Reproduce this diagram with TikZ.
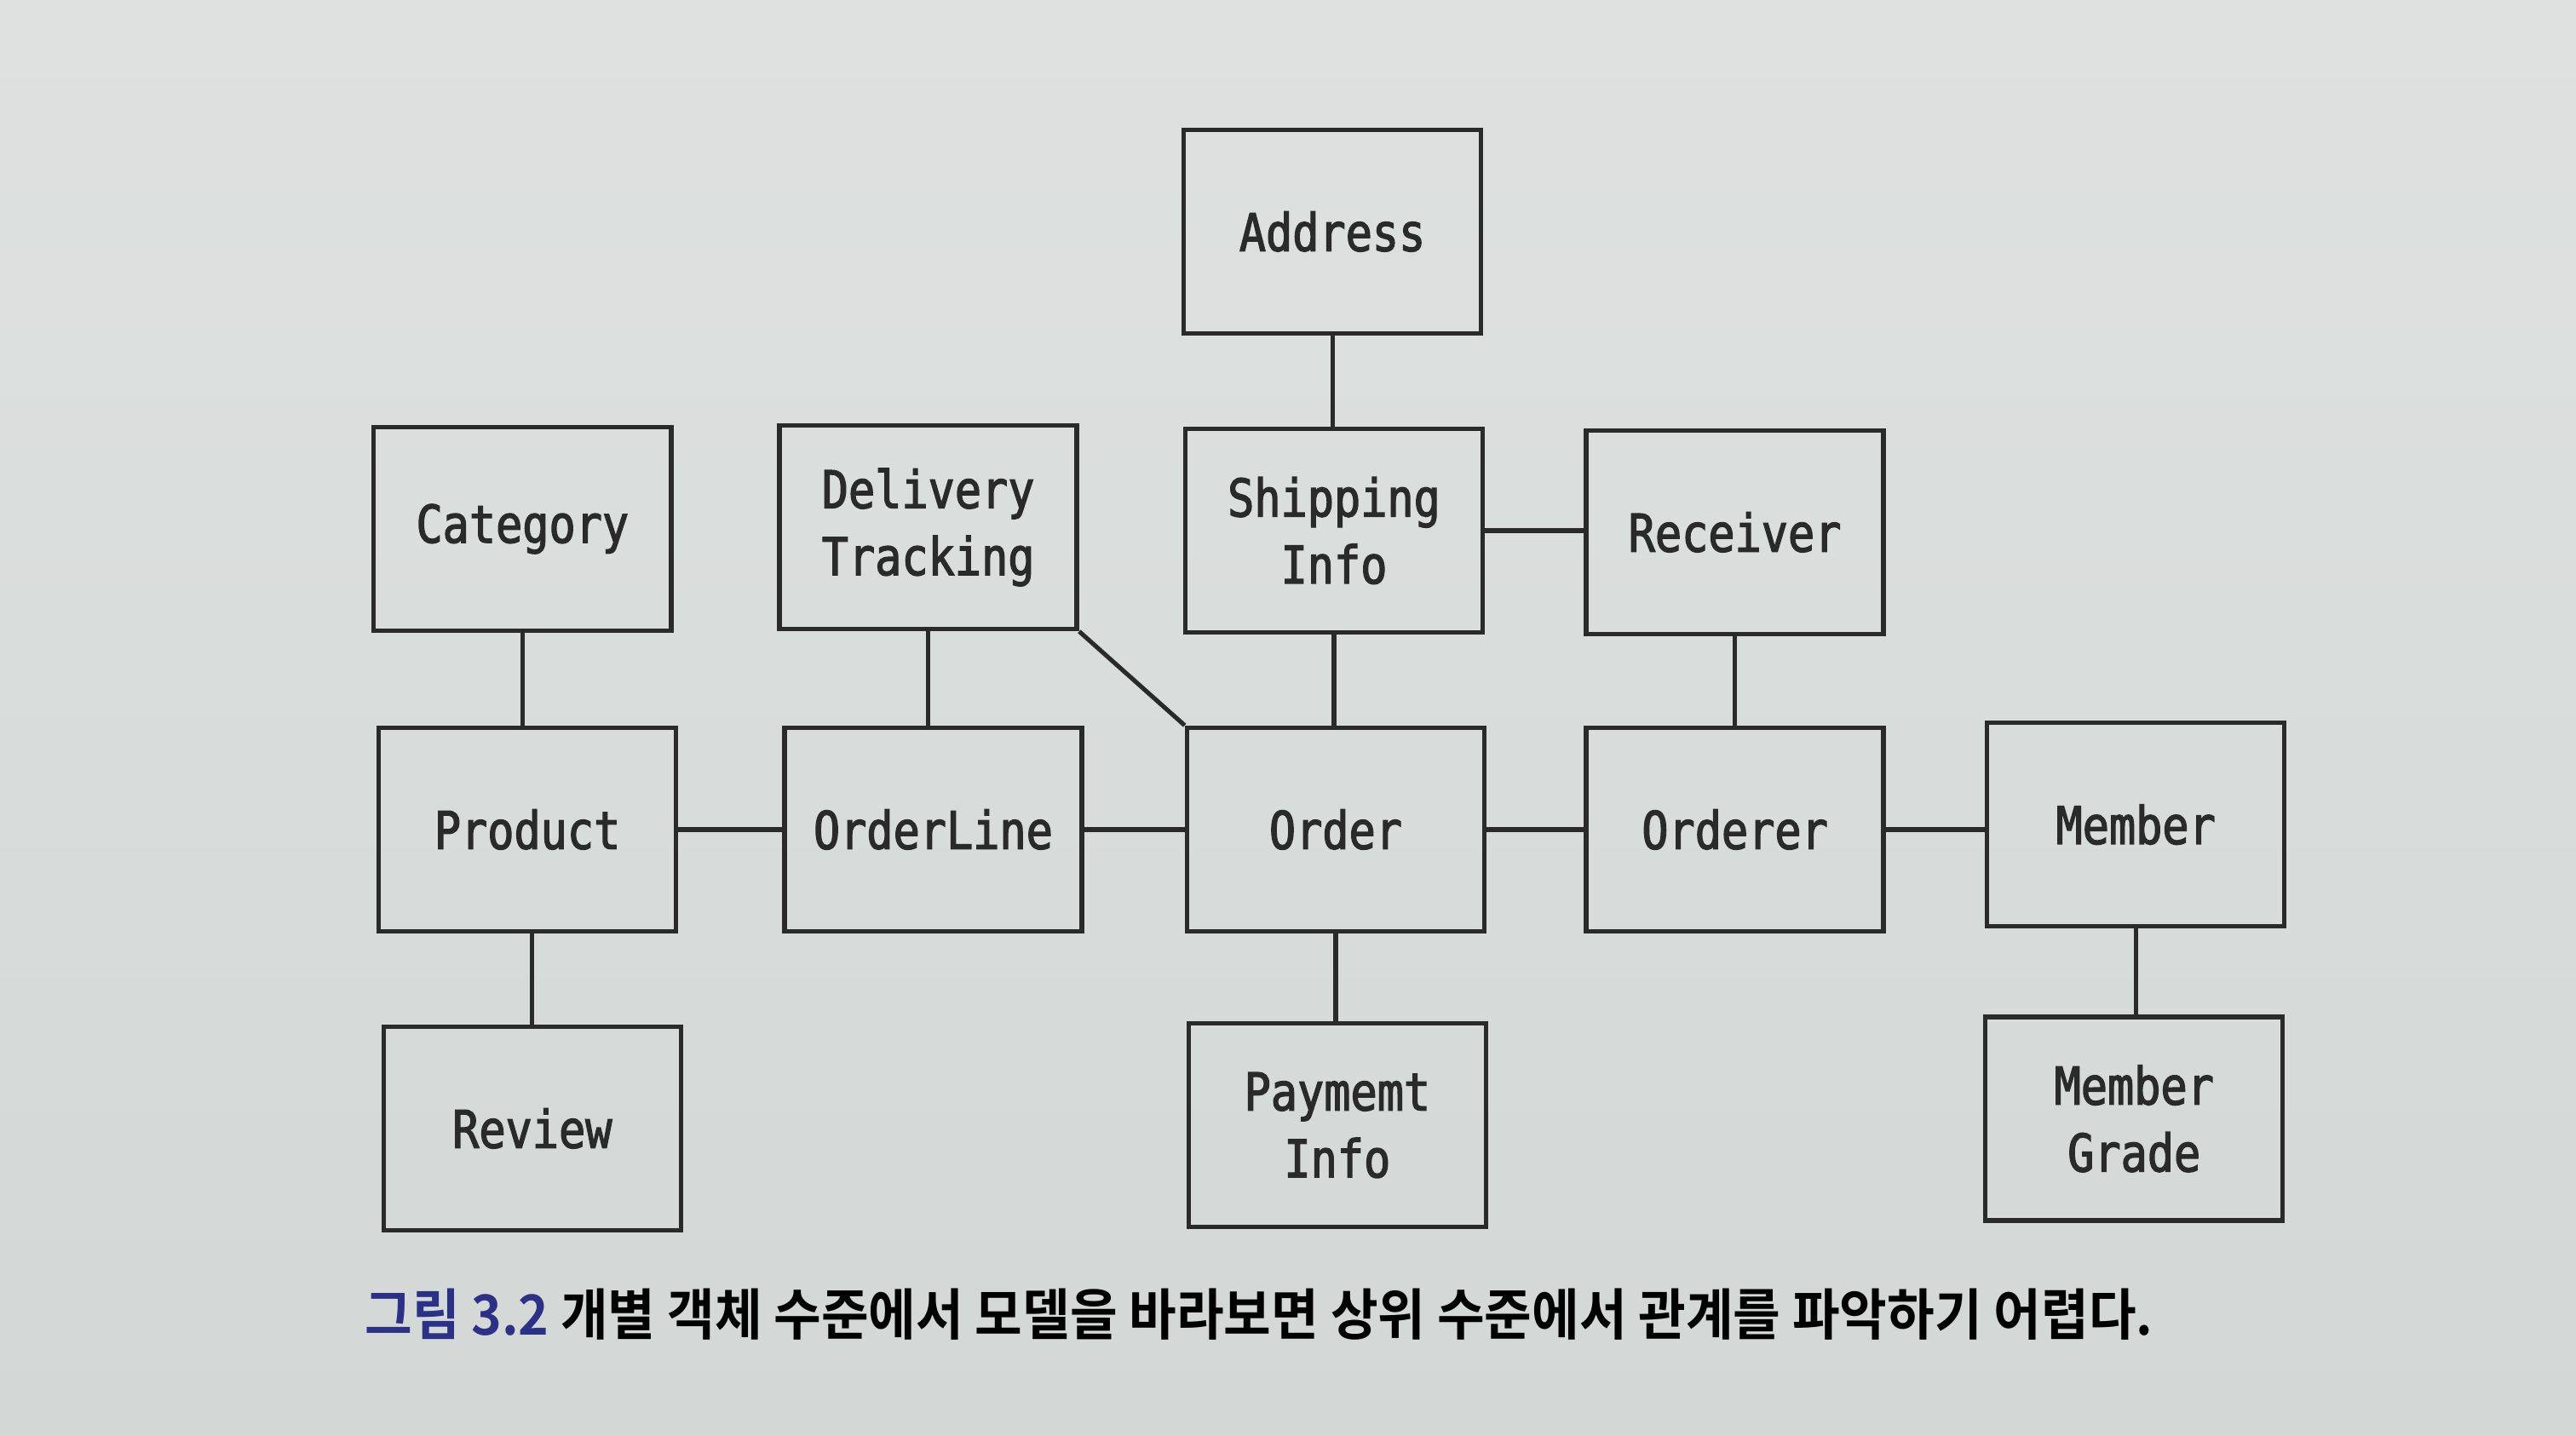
\documentclass[tikz,border=0pt]{standalone}
\usepackage{fontspec}
\newfontfamily\boxfont[FakeStretch=0.85,FakeBold=2.2]{DejaVu Sans Mono}
\newfontfamily\capfont{Noto Sans CJK KR}[BoldFont={* Bold},FakeStretch=0.93]
\definecolor{bgtop}{HTML}{DEE1E0}
\definecolor{bgbot}{HTML}{D3D8D7}
\definecolor{ink}{HTML}{2A2A2A}
\definecolor{capblue}{HTML}{2B3186}
\begin{document}
\begin{tikzpicture}[x=0.05cm,y=-0.05cm,
  entity/.style={draw=ink,line width=4pt,minimum width=9.05cm,minimum height=6.2cm,
    inner sep=0pt,align=center,text=ink,font=\boxfont\fontsize{45}{58}\selectfont},
  link/.style={draw=ink,line width=3.8pt}]
\shade[top color=bgtop,bottom color=bgbot] (0,0) rectangle (1568,874);
\useasboundingbox (0,0) rectangle (1568,874);
% row 1
\node[entity] (address) at (811,141) {Address};
% row 2
\node[entity] (category) at (318,322) {Category};
\node[entity] (delivery) at (565,321) {Delivery\\Tracking};
\node[entity] (shipping) at (812,323) {Shipping\\Info};
\node[entity] (receiver) at (1056,324) {Receiver};
% row 3
\node[entity] (product) at (321,505) {Product};
\node[entity] (orderline) at (568,505) {OrderLine};
\node[entity] (order) at (813,505) {Order};
\node[entity] (orderer) at (1056,505) {Orderer};
\node[entity] (member) at (1300,502) {Member};
% row 4
\node[entity] (review) at (324,687) {Review};
\node[entity] (payment) at (814,685) {Paymemt\\Info};
\node[entity] (grade) at (1299,681) {Member\\Grade};
% connectors
\draw[link] (address) -- (address |- shipping.north);
\draw[link] (shipping) -- (shipping -| receiver.west);
\draw[link] (shipping) -- (shipping |- order.north);
\draw[link] (receiver) -- (receiver |- orderer.north);
\draw[link] (category) -- (category |- product.north);
\draw[link] (delivery) -- (delivery |- orderline.north);
\draw[link] (delivery.south east) -- (order.north west);
\draw[link] (product) -- (orderline);
\draw[link] (orderline) -- (order);
\draw[link] (order) -- (orderer);
\draw[link] (orderer) -- (orderer -| member.west);
\draw[link] (review) -- (review |- product.south);
\draw[link] (order) -- (order |- payment.north);
\draw[link] (member) -- (member |- grade.north);
% caption
\node[anchor=west,inner sep=0pt,text=black,font=\capfont\bfseries\fontsize{48}{56}\selectfont] (caption) at (222,800)
  {\textcolor{capblue}{그림 3.2} 개별 객체 수준에서 모델을 바라보면 상위 수준에서 관계를 파악하기 어렵다.};
\end{tikzpicture}
\end{document}
